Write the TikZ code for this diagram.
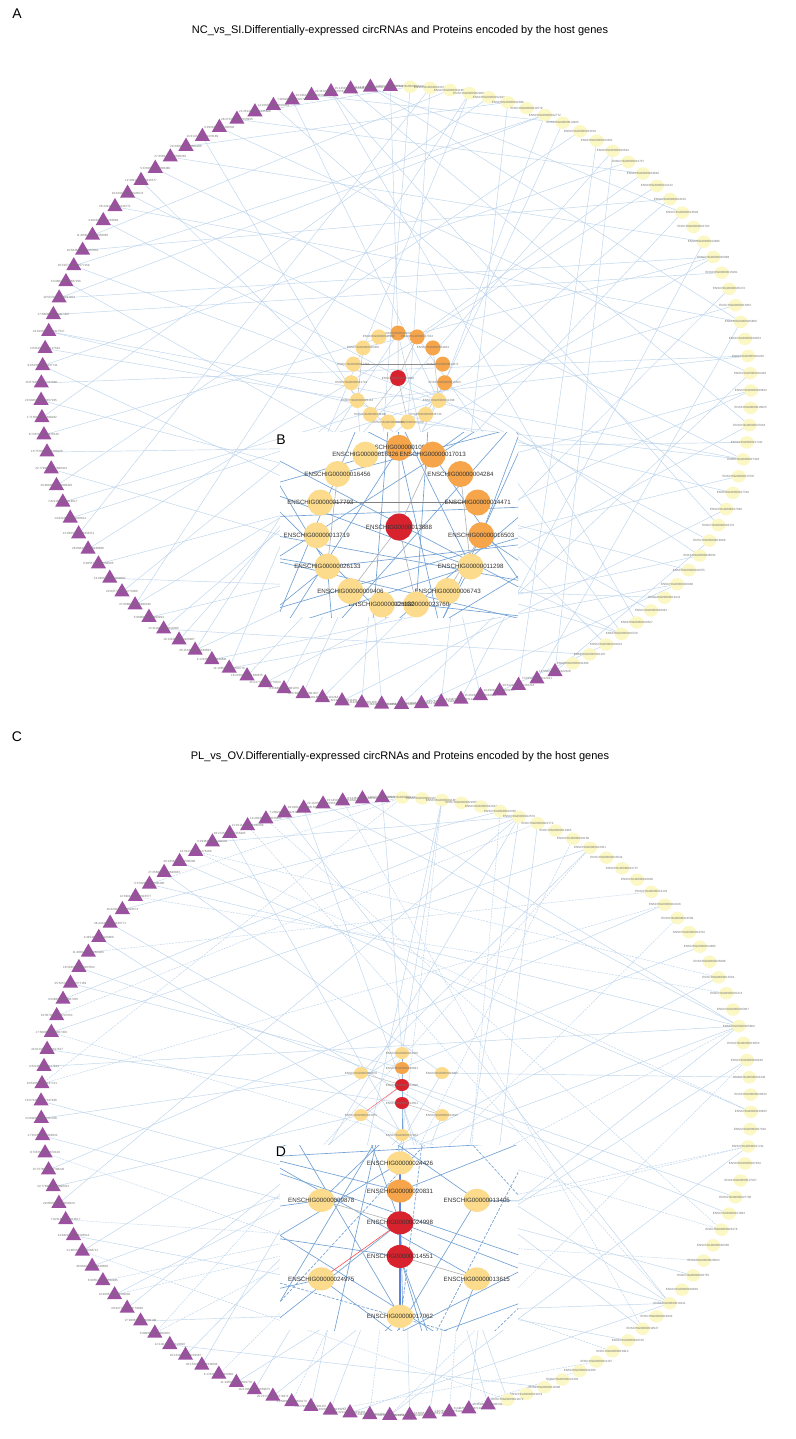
\documentclass[tikz,border=0pt]{standalone}
\usepackage{fontspec}
\setmainfont{Liberation Sans}
\usetikzlibrary{shapes.geometric}

\definecolor{trip}{HTML}{9B50A0}
\definecolor{circy}{HTML}{FBF8C6}
\definecolor{geney}{HTML}{FCDC8C}
\definecolor{geneo}{HTML}{F6A54A}
\definecolor{gener}{HTML}{D8232F}
\definecolor{edgeb}{HTML}{BCD4EC}
\definecolor{edgebd}{HTML}{72A2D4}

\tikzset{
  panel/.style={font=\fontsize{14}{16}\selectfont},
  ttl/.style={font=\fontsize{11}{13}\selectfont},
  tri/.style={regular polygon,regular polygon sides=3,fill=trip,minimum size=17.5pt,inner sep=0pt},
  circ/.style={ellipse,fill=circy,minimum width=14pt,minimum height=12.5pt,inner sep=0pt},
  smalltxt/.style={font=\fontsize{3}{3.5}\selectfont,text=black!55,inner sep=0pt},
  lbl/.style={font=\fontsize{6.2}{7}\selectfont,text=black!80,inner sep=0pt},
  gene/.style={circle,inner sep=0pt},
  genee/.style={ellipse,inner sep=0pt},
  link/.style={edgeb,line width=0.45pt},
  dlink/.style={edgeb,line width=0.45pt,dash pattern=on 2pt off 1pt},
  glink/.style={black!25,line width=0.5pt},
  hlink/.style={black!45,line width=0.8pt},
  clink/.style={edgebd,line width=0.8pt},
  rlink/.style={red!60,line width=0.5pt},
  zlink/.style={edgebd,line width=0.65pt},
  zdlink/.style={edgebd,line width=0.65pt,dash pattern=on 3pt off 1.5pt},
  zglink/.style={black!30,line width=0.6pt},
  zhlink/.style={black!50,line width=1.2pt},
  zclink/.style={edgebd!80!blue,line width=1.4pt},
  zrlink/.style={red!70,line width=0.6pt},
}

% outer ring: last triangle, last circRNA, start angle
\newcommand\outerring[3]{%
  \foreach \i in {0,...,#1}
    \coordinate (t\i) at ({#3+3.214*(\i+1)}:355 and 309);
  \foreach \j in {0,...,#2}
    \coordinate (y\j) at ({#3-3.214*\j}:355 and 309);
}
\newcommand\outernodes[3]{%
  \foreach \i in {0,...,#1}{%
    \pgfmathtruncatemacro\ch{mod(\i*7,29)+1}%
    \pgfmathtruncatemacro\pa{mod(\i*211+37,8999)+1000}%
    \pgfmathtruncatemacro\pb{mod(\i*157+503,8999)+1000}%
    \pgfmathtruncatemacro\pc{mod(\i*97+4219,8999)+1000}%
    \node[tri,label={[smalltxt]center:{\ch:\pa\pb|\pa\pc}}] (#3t\i) at (t\i) {};}
  \foreach \j in {0,...,#2}{%
    \pgfmathtruncatemacro\pe{mod(\j,2)+1}%
    \pgfmathtruncatemacro\pd{mod(\j*193+421,8999)+1000}%
    \node[circ,label={[smalltxt]center:{ENSCHIG000000\pe\pd}}] (#3y\j) at (y\j) {};}
}

% NC_vs_SI hub
\newcommand\clusterA{%
  \begin{scope}[shift={(2,17.5)}]
    \coordinate (ac) at (0,0);
    \foreach \k in {0,...,14}
      \coordinate (a\k) at ({90-24*\k}:47 and 45);
  \end{scope}
}
\newcommand\edgesA[3]{%
  \foreach \i in {0,...,64}{%
    \pgfmathtruncatemacro\m{mod(\i,5)}%
    \ifnum\m=0
      \pgfmathtruncatemacro\k{mod(\i*4,15)}\draw[#1] (t\i) -- (a\k);
    \else
      \pgfmathtruncatemacro\k{mod(\i*13+3,47)}\draw[#1] (t\i) -- (y\k);
    \fi}
  \foreach \j in {1,7,...,43}{%
    \pgfmathtruncatemacro\k{mod(\j*7,15)}\draw[#1] (y\j) -- (a\k);}
  \foreach \j in {3,7,...,43}{%
    \pgfmathtruncatemacro\k{mod(\j*11+8,65)}\draw[#1] (y\j) -- (t\k);}
  \draw[#2] (ac) -- (a0) (ac) -- (a1) (ac) -- (a9) (ac) -- (a7)
    (a13) -- (a10) (a2) -- (a5) (a4) -- (a6);
  \draw[#3] (a12) -- (a3);
}
\newcommand\clusternodesA[4]{%
  \foreach \lab/\col [count=\k from 0] in {10953/geneo,17013/geneo,04284/geneo,
      14471/geneo,16503/geneo,11298/geney,06743/geney,23760/geney,21182/geney,
      09406/geney,26133/geney,13719/geney,17793/geney,16456/geney,16326/geney}
    \node[gene,fill=\col,minimum size=#2,label={[#4]center:{ENSCHIG000000\lab}}] (#1\k) at (a\k) {};
  \node[gene,fill=gener,minimum size=#3,label={[#4]center:{ENSCHIG00000013888}}] (#1c) at (ac) {};
}

% PL_vs_OV hub
\newcommand\clusterC{%
  \coordinate (d0) at (6,53.5);  \coordinate (d1) at (6,38.5);
  \coordinate (d2) at (6,21.5);  \coordinate (d3) at (6,3.5);
  \coordinate (d4) at (6,-28.5);
  \coordinate (d5) at (-35,33.5); \coordinate (d6) at (46,33.5);
  \coordinate (d7) at (-35,-8.5); \coordinate (d8) at (46,-8.5);
}
\newcommand\edgesC[5]{%
  \foreach \i in {0,...,60}{%
    \pgfmathtruncatemacro\m{mod(\i,4)}%
    \ifcase\m
      \pgfmathtruncatemacro\k{mod(\i*5,9)}\draw[#1] (t\i) -- (d\k);
    \or
      \pgfmathtruncatemacro\k{mod(\i*17+6,51)}\draw[#1] (t\i) -- (y\k);
    \or
      \pgfmathtruncatemacro\k{mod(\i*11+20,51)}\draw[#2] (t\i) -- (y\k);
    \or
      \pgfmathtruncatemacro\k{mod(\i*7+2,51)}\draw[#1] (t\i) -- (y\k);
    \fi}
  \foreach \j in {2,10,...,50}{%
    \pgfmathtruncatemacro\k{mod(\j*4+1,9)}\draw[#1] (y\j) -- (d\k);}
  \foreach \j in {0,5,...,50}{%
    \pgfmathtruncatemacro\k{mod(\j*9+13,61)}\draw[#2] (y\j) -- (t\k);}
  \draw[#3] (d0) -- (d1) -- (d2) -- (d3) -- (d4);
  \draw[#4] (d7) -- (d2);
  \draw[#5] (d5) -- (d2) (d3) -- (d8);
}
\newcommand\clusternodesC[4]{%
  \foreach \lab/\col [count=\k from 0] in {24426/geney,20831/geneo,24998/gener,
      14551/gener,17062/geney,09878/geney,13405/geney,24975/geney,13615/geney}
    \node[genee,fill=\col,minimum width=#2,minimum height=#3,label={[#4]center:{ENSCHIG000000\lab}}] (#1\k) at (d\k) {};
}

\begin{document}
\begin{tikzpicture}[x=1pt,y=1pt]
\useasboundingbox[fill=white] (0,0) rectangle (795,-1439);

% ---- A ----
\node[panel] (pA) at (17,-14) {A};
\node[ttl] (ttlA) at (400,-31) {NC\_vs\_SI.Differentially-expressed circRNAs and Proteins encoded by the host genes};
\begin{scope}[shift={(396,-395.5)}]
  \outerring{64}{46}{87.7}
  \clusterA
\end{scope}
\edgesA{link}{glink}{hlink}
\outernodes{64}{46}{A}
\clusternodesA{sa}{15pt}{16pt}{smalltxt}

% ---- B (zoom) ----
\begin{scope}
  \fill[white] (280,-432) rectangle (518,-617);
  \clip (280,-432) rectangle (518,-617);
  \begin{scope}[shift={(395.5,-557.8)},scale=1.76]
    \outerring{64}{46}{87.7}
    \clusterA
  \end{scope}
  \edgesA{zlink}{zglink}{zhlink}
  \clusternodesA{ba}{26pt}{27pt}{lbl}
\end{scope}
\node[panel] (pB) at (281,-440) {B};

% ---- C ----
\node[panel] (pC) at (17,-737) {C};
\node[ttl] (ttlC) at (400,-757) {PL\_vs\_OV.Differentially-expressed circRNAs and Proteins encoded by the host genes};
\begin{scope}[shift={(396,-1106.5)}]
  \outerring{60}{50}{89}
  \clusterC
\end{scope}
\edgesC{link}{dlink}{clink}{rlink}{glink}
\outernodes{60}{50}{C}
\clusternodesC{sc}{14pt}{12pt}{smalltxt}

% ---- D (zoom) ----
\begin{scope}
  \fill[white] (280,-1145) rectangle (518,-1330);
  \clip (280,-1145) rectangle (518,-1330);
  \begin{scope}[shift={(388.5,-1263)},xscale=1.92,yscale=1.87]
    \outerring{60}{50}{89}
    \clusterC
  \end{scope}
  \edgesC{zlink}{zdlink}{zclink}{zrlink}{zglink}
  \clusternodesC{dd}{27pt}{23pt}{lbl}
\end{scope}
\node[panel] (pD) at (281,-1152) {D};
\end{tikzpicture}
\end{document}
